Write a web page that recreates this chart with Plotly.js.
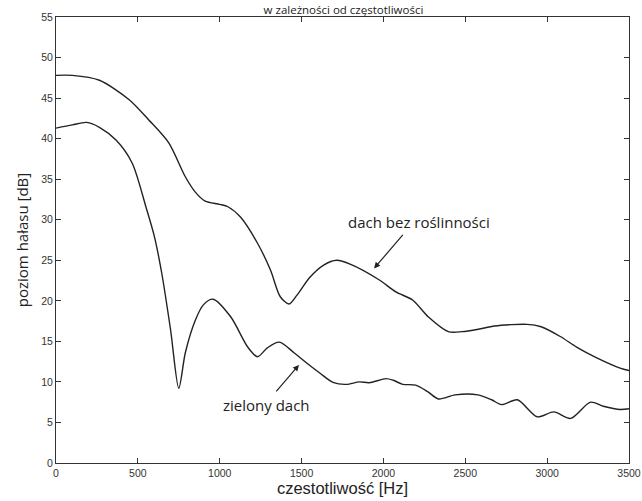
<!DOCTYPE html>
<html>
<head>
<meta charset="utf-8">
<script src="https://cdn.plot.ly/plotly-3.0.1.min.js"></script>
<style>html,body{margin:0;padding:0;background:#fff;}#chart{width:642px;height:501px;}</style>
</head>
<body>
<div id="chart"></div>
<script>
// Upper curve: dach bez roślinności
const freqBare = [0,100,265,447,567,688,790,851,911,1000,1050,1128,1231,1310,1370,1424,1472,1551,1635,1714,1800,1973,2076,2178,2275,2396,2480,2580,2679,2878,2963,3080,3180,3300,3446,3500];
const levelBare = [47.8,47.8,47.2,44.8,42.3,39.5,35.3,33.4,32.3,31.9,31.6,30.3,27.1,23.8,20.5,19.6,20.7,22.9,24.4,25.0,24.5,22.6,21.1,20.1,18.0,16.2,16.2,16.5,16.9,17.1,16.8,15.6,14.3,13.0,11.7,11.4];
// Lower curve: zielony dach
const freqGreen = [0,100,187,265,368,465,549,600,646,700,750,790,851,900,960,1068,1171,1231,1291,1364,1454,1533,1611,1696,1774,1853,1913,2016,2060,2118,2197,2270,2336,2438,2577,2661,2722,2818,2939,3041,3144,3265,3343,3446,3500];
const levelGreen = [41.3,41.7,42.0,41.4,39.8,37.0,31.6,28.0,23.4,16.4,9.2,13.6,17.6,19.5,20.2,18.0,14.3,13.1,14.2,14.9,13.6,12.3,11.1,9.9,9.7,10.0,9.9,10.4,10.2,9.7,9.6,8.8,7.9,8.4,8.4,7.8,7.2,7.8,5.7,6.3,5.5,7.5,7.0,6.6,6.7];
const xTicks = [0,500,1000,1500,2000,2500,3000,3500];

const labelBare = 'dach bez roślinności';
const labelGreen = 'zielony dach';
const titleText = 'w zależności od częstotliwości';
const xTitle = 'czestotliwość [Hz]';
const yTitle = 'poziom hałasu [dB]';

const lineStyle = {color:'#222', width:1.4, shape:'spline', smoothing:0.8};
const traces = [
  {x:freqBare, y:levelBare, mode:'lines', line:lineStyle, name:labelBare, hoverinfo:'skip'},
  {x:freqGreen, y:levelGreen, mode:'lines', line:lineStyle, name:labelGreen, hoverinfo:'skip'}
];

const axisCommon = {
  showline:true, mirror:'ticks', linecolor:'#333', linewidth:1,
  ticks:'inside', ticklen:5, tickcolor:'#333', showgrid:false, zeroline:false,
  ticklabeloverflow:'allow',
  tickfont:{family:'Liberation Sans, Arial, sans-serif', size:10.5, color:'#333'}
};

const layout = {
  width:642, height:501,
  margin:{l:56, r:13, t:17, b:38},
  paper_bgcolor:'#fff', plot_bgcolor:'#fff',
  showlegend:false,
  title:{text:titleText, x:0.535, xanchor:'center', y:0.981, yref:'container', yanchor:'middle', pad:{t:0,b:0},
         font:{family:'Open Sans, sans-serif', size:11.5, color:'#222'}},
  xaxis:Object.assign({}, axisCommon, {range:[0,3500], tickvals:xTicks,
         title:{text:xTitle, standoff:2, font:{family:'Liberation Sans, Arial, sans-serif', size:16.5, color:'#222'}}}),
  yaxis:Object.assign({}, axisCommon, {range:[0,55], dtick:5,
         title:{text:yTitle, standoff:8, font:{family:'Open Sans, sans-serif', size:15, color:'#222'}}}),
  annotations:[
    {x:2215, y:29.7, text:labelBare, showarrow:false, font:{family:'Open Sans, sans-serif', size:15, color:'#222'}},
    {x:1943, y:24.0, text:'', showarrow:true, arrowhead:2, arrowsize:1, arrowwidth:1.2, arrowcolor:'#222', ax:30, ay:-35},
    {x:1285, y:7.2, text:labelGreen, showarrow:false, font:{family:'Open Sans, sans-serif', size:15, color:'#222'}},
    {x:1484, y:12.1, text:'', showarrow:true, arrowhead:2, arrowsize:1, arrowwidth:1.2, arrowcolor:'#222', ax:-24, ay:28}
  ]
};

Plotly.newPlot('chart', traces, layout, {displayModeBar:false, staticPlot:true});
</script>
</body>
</html>
